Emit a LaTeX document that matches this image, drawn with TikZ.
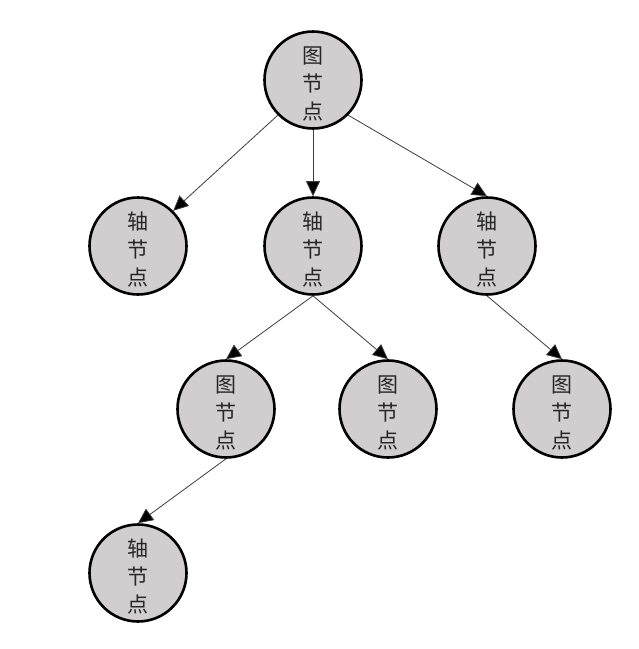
\documentclass[tikz,border=0pt]{standalone}
\usepackage{fontspec}
\newfontfamily\cjk{Noto Sans CJK SC}
\usetikzlibrary{arrows.meta}
\definecolor{nodegray}{RGB}{208,206,207}
\definecolor{edgegray}{RGB}{60,60,60}
\newcommand{\toppad}{\rule{0pt}{25pt}}
\begin{document}
\begin{tikzpicture}[x=1pt,y=-1pt,
  tnode/.style={circle,draw=black,line width=2.6pt,fill=nodegray,minimum size=97pt,inner sep=0pt,align=center,
    font=\cjk\fontsize{21}{28}\selectfont,text=black!85},
  conn/.style={draw=edgegray,line width=0.8pt,-{Triangle[length=15pt,width=14pt,fill=black]}}]
\useasboundingbox (0,0) rectangle (639,649);
\fill[white] (0,0) rectangle (639,649);
\node[tnode] (root) at (313,80) {\toppad 图\\节\\点};
\node[tnode] (a1) at (138,246) {\toppad 轴\\节\\点};
\node[tnode] (a2) at (313,246) {\toppad 轴\\节\\点};
\node[tnode] (a3) at (487,246) {\toppad 轴\\节\\点};
\node[tnode] (b1) at (226,409) {\toppad 图\\节\\点};
\node[tnode] (b2) at (388,409) {\toppad 图\\节\\点};
\node[tnode] (b3) at (562,409) {\toppad 图\\节\\点};
\node[tnode] (c1) at (138,573) {\toppad 轴\\节\\点};
\draw[conn] (root.south west) -- (a1.north east);
\draw[conn] (root.south) -- (a2.north);
\draw[conn] (root.south east) -- (a3.north);
\draw[conn] (a2.south) -- (b1.north);
\draw[conn] (a2.south) -- (b2.north);
\draw[conn] (a3.south) -- (b3.north);
\draw[conn] (b1.south) -- (c1.north);
\end{tikzpicture}
\end{document}
